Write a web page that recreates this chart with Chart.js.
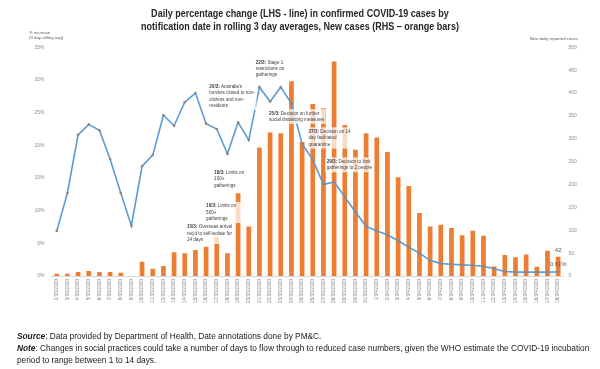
<!DOCTYPE html>
<html>
<head>
<meta charset="utf-8">
<script src="https://cdn.jsdelivr.net/npm/chart.js"></script>
<style>
  html, body { margin: 0; padding: 0; background: #fff; }
  #wrap { position: relative; width: 600px; height: 369px; overflow: hidden; }
  #chart { position: absolute; left: 0; top: 0; }
  #title {
    position: absolute; left: 0; top: 7px; width: 600px; text-align: center;
    font: bold 11px "Liberation Sans", Arial, sans-serif;
    line-height: 13px; color: #262626;
    transform: scaleX(0.82); transform-origin: 300px 0;
  }
  #notes {
    position: absolute; left: 17px; top: 330px; width: 590px;
    font: 8.3px "Liberation Sans", Arial, sans-serif; line-height: 12px; color: #1a1a1a;
    white-space: nowrap;
  }
  #notes b { font-style: italic; }
</style>
</head>
<body>
<div id="wrap">
  <canvas id="chart" width="600" height="369"></canvas>
  <div id="title">Daily percentage change (LHS - line) in confirmed COVID-19 cases by<br>notification date in rolling 3 day averages, New cases (RHS – orange bars)</div>
  <div id="notes">
    <div><b>Source</b>: Data provided by Department of Health, Date annotations done by PM&amp;C.</div>
    <div><b>Note</b>: Changes in social practices could take a number of days to flow through to reduced case numbers, given the WHO estimate the COVID-19 incubation</div>
    <div>period to range between 1 to 14 days.</div>
  </div>
</div>
<script>
const dates = [
  "2/03/2020", "3/03/2020", "4/03/2020", "5/03/2020", "6/03/2020", "7/03/2020", "8/03/2020", "9/03/2020",
  "10/03/2020", "11/03/2020", "12/03/2020", "13/03/2020", "14/03/2020", "15/03/2020", "16/03/2020", "17/03/2020",
  "18/03/2020", "19/03/2020", "20/03/2020", "21/03/2020", "22/03/2020", "23/03/2020", "24/03/2020", "25/03/2020",
  "26/03/2020", "27/03/2020", "28/03/2020", "29/03/2020", "30/03/2020", "31/03/2020", "1/04/2020", "2/04/2020",
  "3/04/2020", "4/04/2020", "5/04/2020", "6/04/2020", "7/04/2020", "8/04/2020", "9/04/2020", "10/04/2020",
  "11/04/2020", "12/04/2020", "13/04/2020", "14/04/2020", "15/04/2020", "16/04/2020", "17/04/2020", "18/04/2020"
];

// new daily reported cases (RHS, orange bars)
const newCases = [
  5, 5, 9, 11, 9, 9, 7, 0,
  31, 16, 22, 52, 50, 57, 64, 86,
  50, 181, 108, 281, 314, 312, 426, 293,
  376, 367, 469, 330, 276, 312, 303, 271,
  216, 197, 138, 108, 112, 105, 89, 99,
  88, 21, 46, 41, 47, 20, 55, 42
];

// % increase, 3 day rolling avg (LHS, blue line)
const pctIncrease = [
  6.9, 12.7, 21.6, 23.2, 22.3, 17.9, 12.7, 7.7,
  16.8, 18.5, 24.6, 23.0, 26.6, 28.0, 23.3, 22.5,
  18.7, 23.5, 20.8, 28.9, 26.7, 28.9, 26.4, 20.2,
  17.8, 14.0, 14.4, 12.1, 9.8, 7.6, 6.9, 6.3,
  5.4, 4.4, 3.5, 2.4, 1.9, 1.8, 1.7, 1.6,
  1.5, 1.1, 0.7, 0.6, 0.6, 0.6, 0.6, 0.61
];

const leftTicks = [0, 5, 10, 15, 20, 25, 30, 35];
const rightTicks = [0, 50, 100, 150, 200, 250, 300, 350, 400, 450, 500];

// date annotations: at = category index, pct = LHS value of first line
const notes = [
  { at: 12.2, pct: 7.5, date: "15/3:", lines: [" Overseas arrival", "req'd to self-isolate for", "14 days"] },
  { at: 14.0, pct: 10.7, date: "16/3:", lines: [" Limits on", "500+", "gatherings"], w: 34 },
  { at: 14.75, pct: 15.8, date: "18/3:", lines: [" Limits on", "100+", "gatherings"] },
  { at: 14.3, pct: 29.0, date: "20/3:", lines: [" Australia's", "borders closed to non-", "citizens and non-", "residents"] },
  { at: 18.65, pct: 32.7, date: "22/3:", lines: [" Stage 1", "restrictions on", "gatherings"] },
  { at: 19.9, pct: 24.9, date: "25/3:", lines: [" Decision on further", "social distancing measures"] },
  { at: 23.6, pct: 22.1, date: "27/3:", lines: [" Decision on 14", "day facilitated", "quarantine"] },
  { at: 25.3, pct: 17.5, date: "29/3:", lines: [" Decision to limit", "gatherings to 2 people"] }
];

const FONT = '"Liberation Sans", Arial, sans-serif';

const extrasPlugin = {
  id: "extras",
  afterDatasetsDraw(chart) {
    const ctx = chart.ctx;
    const xs = chart.scales.x, ys = chart.scales.y;
    const x0 = xs.getPixelForValue(0), step = xs.getPixelForValue(1) - x0;
    const fs = 4.6, lh = 6.4;
    ctx.save();
    ctx.textBaseline = "middle";
    ctx.textAlign = "left";
    notes.forEach(n => {
      const px = x0 + n.at * step;
      const py = ys.getPixelForValue(n.pct);
      ctx.font = "bold " + fs + "px " + FONT;
      const dw = ctx.measureText(n.date).width;
      ctx.font = fs + "px " + FONT;
      let w = dw + ctx.measureText(n.lines[0]).width;
      n.lines.slice(1).forEach(l => { w = Math.max(w, ctx.measureText(l).width); });
      if (n.w) w = Math.max(w, n.w);
      ctx.fillStyle = "rgba(255,255,255,0.72)";
      ctx.fillRect(px - 1.5, py - lh / 2 - 1, w + 3, lh * n.lines.length + 2);
      ctx.fillStyle = "#404040";
      ctx.font = "bold " + fs + "px " + FONT;
      ctx.fillText(n.date, px, py);
      ctx.font = fs + "px " + FONT;
      n.lines.forEach((l, i) => {
        ctx.fillText(l, i === 0 ? px + dw : px, py + i * lh);
      });
    });

    // value labels on the last point / bar
    const lineMeta = chart.getDatasetMeta(0), barMeta = chart.getDatasetMeta(1);
    const lastLine = lineMeta.data[lineMeta.data.length - 1];
    const lastBar = barMeta.data[barMeta.data.length - 1];
    ctx.fillStyle = "#595959";
    ctx.font = "6px " + FONT;
    ctx.textAlign = "center";
    ctx.fillText(String(newCases[newCases.length - 1]), lastBar.x, lastBar.y - 6.5);
    ctx.fillText(pctIncrease[pctIncrease.length - 1].toFixed(2) + "%", lastLine.x, lastLine.y - 8);

    // axis titles
    ctx.font = "4.3px " + FONT;
    ctx.fillStyle = "#595959";
    ctx.textAlign = "left";
    ctx.fillText("% increase", 29, 32.5);
    ctx.fillText("(3 day rolling avg)", 29, 37.5);
    ctx.textAlign = "right";
    ctx.fillText("New daily reported cases", 578, 38.5);
    ctx.restore();
  }
};

new Chart(document.getElementById("chart"), {
  type: "bar",
  data: {
    labels: dates,
    datasets: [
      {
        type: "line",
        label: "% increase (3 day rolling avg)",
        data: pctIncrease,
        yAxisID: "y",
        borderColor: "#5b9bd5",
        borderWidth: 1.6,
        pointRadius: 1.3,
        pointBackgroundColor: "#9c8272",
        pointBorderWidth: 0,
        tension: 0,
        order: 0
      },
      {
        type: "bar",
        label: "New daily reported cases",
        data: newCases,
        yAxisID: "y1",
        backgroundColor: "#ed7d31",
        barPercentage: 0.44,
        categoryPercentage: 1,
        order: 1
      }
    ]
  },
  options: {
    responsive: false,
    animation: false,
    devicePixelRatio: 1,
    layout: { padding: { top: 47.3, left: 0, right: 0, bottom: 0 } },
    plugins: { legend: { display: false }, tooltip: { enabled: false } },
    scales: {
      x: {
        offset: true,
        grid: { display: false, drawTicks: false },
        border: { color: "#d9d9d9" },
        afterFit: s => { s.height = 93; },
        ticks: {
          autoSkip: false, minRotation: 90, maxRotation: 90, padding: 3,
          color: "#7f7f7f", font: { size: 4.8, family: FONT }
        }
      },
      y: {
        position: "left",
        min: 0, max: 35,
        grid: { display: false, drawTicks: false },
        border: { display: false },
        afterFit: s => { s.width = 51.4; },
        afterBuildTicks: s => { s.ticks = leftTicks.map(v => ({ value: v })); },
        ticks: {
          padding: 7, color: "#8c8c8c", font: { size: 5, family: FONT },
          callback: v => v + "%"
        }
      },
      y1: {
        position: "right",
        min: 0, max: 500,
        grid: { display: false, drawTicks: false },
        border: { display: false },
        afterFit: s => { s.width = 36.5; },
        afterBuildTicks: s => { s.ticks = rightTicks.map(v => ({ value: v })); },
        ticks: { padding: 5, color: "#8c8c8c", font: { size: 5, family: FONT } }
      }
    }
  },
  plugins: [extrasPlugin]
});
</script>
</body>
</html>
